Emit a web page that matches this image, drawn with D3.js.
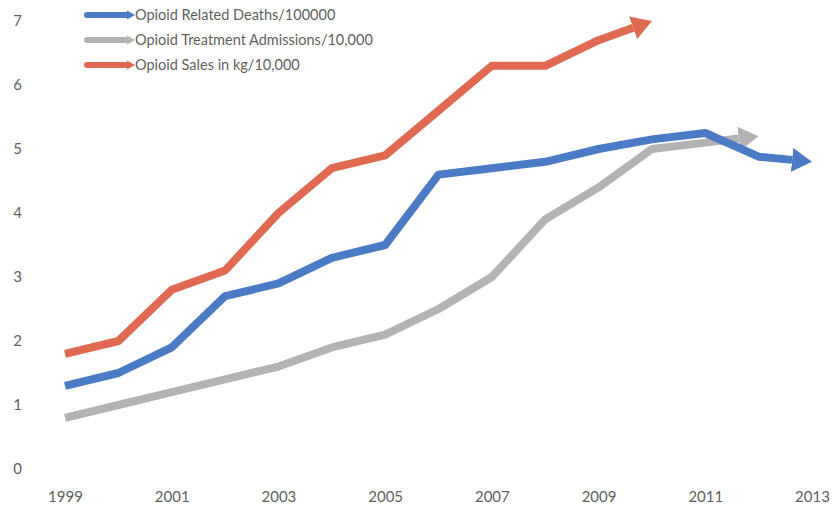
<!DOCTYPE html>
<html>
<head>
<meta charset="utf-8">
<script src="https://cdn.jsdelivr.net/npm/d3@7"></script>
<style>
  html, body { margin: 0; padding: 0; background: #fff; }
  svg { display: block; }
  text { font-family: Lato, "Open Sans", sans-serif; fill: #5f5f5f; }
</style>
</head>
<body>
<svg id="chart" width="832" height="507"></svg>
<script>
// Years on the horizontal axis
const years = [1999, 2000, 2001, 2002, 2003, 2004, 2005, 2006, 2007, 2008, 2009, 2010, 2011, 2012, 2013];
const xTicks = [1999, 2001, 2003, 2005, 2007, 2009, 2011, 2013];
const yTicks = [0, 1, 2, 3, 4, 5, 6, 7];

// Series values (null = no value for that year)
const deaths     = [1.3, 1.5, 1.9, 2.7, 2.9, 3.3, 3.5, 4.6, 4.7, 4.8, 5.0, 5.15, 5.25, 4.88, 4.8];
const admissions = [0.8, 1.0, 1.2, 1.4, 1.6, 1.9, 2.1, 2.5, 3.0, 3.9, 4.4, 5.0, 5.1, 5.2, null];
const sales      = [1.8, 2.0, 2.8, 3.1, 4.0, 4.7, 4.9, 5.6, 6.3, 6.3, 6.7, 7.0, null, null, null];

const seriesNames = ["Opioid Related Deaths/100000", "Opioid Treatment Admissions/10,000", "Opioid Sales in kg/10,000"];
const seriesColors = ["#4c7bc6", "#b3b3b3", "#e06a51"];

const svg = d3.select("#chart");
const x = d3.scaleLinear().domain([1999, 2013]).range([65, 812]);
const y = d3.scaleLinear().domain([0, 7]).range([469, 21]);

// Axis labels (no axis lines or gridlines)
const xAxis = d3.axisBottom(x).tickValues(xTicks).tickFormat(d3.format("d")).tickSize(0).tickPadding(0);
svg.append("g").attr("transform", "translate(0,491)").call(xAxis)
  .call(g => g.select(".domain").remove())
  .selectAll("text").attr("font-size", 15).attr("dy", "0.71em").style("fill", "#5f5f5f")
  .style("font-family", "Lato, sans-serif");

const yAxis = d3.axisLeft(y).tickValues(yTicks).tickFormat(d3.format("d")).tickSize(0).tickPadding(0);
svg.append("g").attr("transform", "translate(22,0)").call(yAxis)
  .call(g => g.select(".domain").remove())
  .selectAll("text").attr("font-size", 15).style("fill", "#5f5f5f")
  .style("font-family", "Lato, sans-serif");

// Arrowhead markers, one per series colour
const defs = svg.append("defs");
const headLen = 20, headW = 24;
seriesColors.forEach((c, i) => {
  defs.append("marker")
    .attr("id", "arrow" + i)
    .attr("markerUnits", "userSpaceOnUse")
    .attr("viewBox", `0 ${-headW / 2} ${headLen} ${headW}`)
    .attr("refX", 0).attr("refY", 0)
    .attr("markerWidth", headLen).attr("markerHeight", headW)
    .attr("orient", "auto")
    .append("path")
    .attr("d", `M0,${-headW / 2}L${headLen},0L0,${headW / 2}Z`)
    .attr("fill", c);
});

const line = d3.line().x(d => d[0]).y(d => d[1]);

// Lines end short of the last point so the arrowhead tip lands on it
function arrowPath(vals, len) {
  const pts = years.map((yr, i) => [yr, vals[i]]).filter(d => d[1] != null)
    .map(d => [x(d[0]), y(d[1])]);
  const p = pts[pts.length - 1], q = pts[pts.length - 2];
  const dx = p[0] - q[0], dy = p[1] - q[1], dist = Math.hypot(dx, dy);
  pts[pts.length - 1] = [p[0] - dx / dist * len, p[1] - dy / dist * len];
  return line(pts);
}

const allSeries = [deaths, admissions, sales];
// Red first, then grey, then blue on top
[2, 1, 0].forEach(i => {
  svg.append("path")
    .attr("d", arrowPath(allSeries[i], headLen))
    .attr("fill", "none")
    .attr("stroke", seriesColors[i])
    .attr("stroke-width", 8)
    .attr("stroke-linejoin", "round")
    .attr("stroke-linecap", "butt")
    .attr("marker-end", `url(#arrow${i})`);
});

// Legend
const legend = svg.append("g");
const legendY = [15, 40, 65];
seriesNames.forEach((name, i) => {
  const row = legend.append("g").attr("transform", `translate(0,${legendY[i]})`);
  row.append("line")
    .attr("x1", 87).attr("x2", 128).attr("y1", 0).attr("y2", 0)
    .attr("stroke", seriesColors[i]).attr("stroke-width", 6)
    .attr("stroke-linecap", "round");
  row.append("path")
    .attr("d", "M127,-4.5L135,0L127,4.5Z")
    .attr("fill", seriesColors[i]);
  row.append("text")
    .attr("x", 135).attr("y", 0).attr("dy", "0.35em")
    .attr("font-size", 14.5)
    .text(name);
});
</script>
</body>
</html>
